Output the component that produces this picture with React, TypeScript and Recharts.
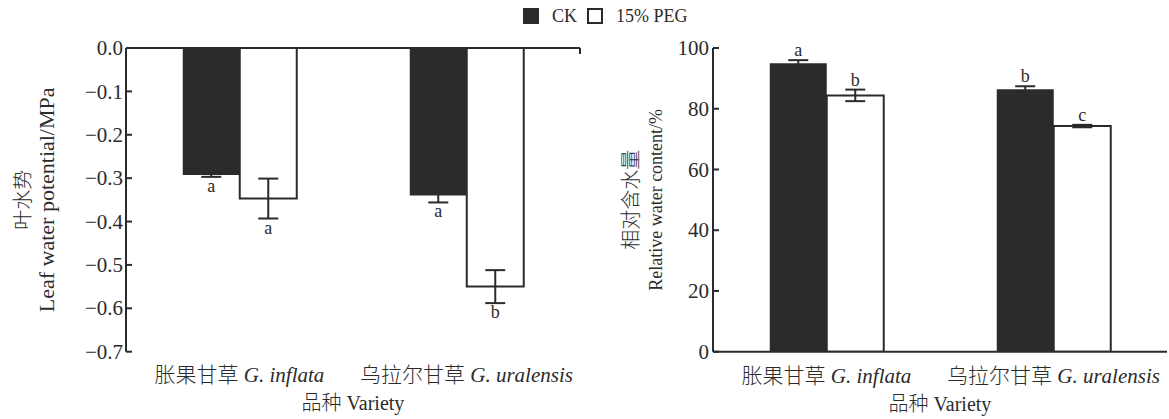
import React from "react";
import { BarChart, Bar, XAxis, YAxis, ErrorBar, LabelList } from "recharts";

// categories
const varietyCn = ["胀果甘草", "乌拉尔甘草"];
const varietyLatin = ["G. inflata", "G. uralensis"];
const seriesNames = ["CK", "15% PEG"];

// leaf water potential (MPa)
const lwpCk = [-0.293, -0.34];
const lwpCkErr = [0.004, 0.016];
const lwpPeg = [-0.347, -0.55];
const lwpPegErr = [0.046, 0.038];
const lwpCkLetters = ["a", "a"];
const lwpPegLetters = ["a", "b"];
const lwpTicks = [0, -0.1, -0.2, -0.3, -0.4, -0.5, -0.6, -0.7];

// relative water content (%)
const rwcCk = [95.0, 86.4];
const rwcCkErr = [1.0, 1.0];
const rwcPeg = [84.4, 74.3];
const rwcPegErr = [1.9, 0.4];
const rwcCkLetters = ["a", "b"];
const rwcPegLetters = ["b", "c"];
const rwcTicks = [0, 20, 40, 60, 80, 100];

const SERIF = "Liberation Serif";
const CJK = "Noto Sans CJK SC";
const INK = "#2b2b2b";
const BAR = "#2b2b2b";

function makeRows(ck: number[], ckErr: number[], peg: number[], pegErr: number[]) {
  return varietyCn.map((cn, i) => ({
    cn,
    ck: ck[i],
    ckErr: ckErr[i],
    peg: peg[i],
    pegErr: pegErr[i],
  }));
}

function CatTick(props: any) {
  const { x, y, payload } = props;
  const i = varietyCn.indexOf(payload.value);
  return (
    <text x={x} y={y + 30.5} textAnchor="middle" fontSize={21} fill={INK}>
      <tspan fontFamily={CJK} fontWeight={300}>{varietyCn[i]}</tspan>
      <tspan fontFamily={SERIF}>{" "}</tspan>
      <tspan fontFamily={SERIF} fontStyle="italic">{varietyLatin[i]}</tspan>
    </text>
  );
}

function makeYTick(fmt: (v: number) => string, gap: number) {
  return (props: any) => {
    const { x, y, payload } = props;
    return (
      <text x={x} y={y} dx={gap} dy="0.34em" textAnchor="end" fontSize={21} fill={INK} fontFamily={SERIF}>
        {fmt(Number(payload.value))}
      </text>
    );
  };
}

function XTitle(props: any) {
  const vb = props.viewBox || {};
  return (
    <text x={vb.x + vb.width / 2} y={vb.y + 58.5} textAnchor="middle" fontSize={20} fill={INK}>
      <tspan fontFamily={CJK} fontWeight={300}>品种</tspan>
      <tspan fontFamily={SERIF}> Variety</tspan>
    </text>
  );
}

function YTitle(props: any) {
  const vb = props.viewBox || {};
  const cy = vb.y + vb.height / 2;
  const { cn, en, cnX, enX, cnSize, enSize } = props;
  return (
    <g fill={INK}>
      <text
        x={vb.x + cnX}
        y={cy}
        transform={`rotate(-90 ${vb.x + cnX} ${cy})`}
        textAnchor="middle"
        dominantBaseline="central"
        fontSize={cnSize}
        fontFamily={CJK}
        fontWeight={300}
      >
        {cn}
      </text>
      <text
        x={vb.x + enX}
        y={cy}
        transform={`rotate(-90 ${vb.x + enX} ${cy})`}
        textAnchor="middle"
        dominantBaseline="central"
        fontSize={enSize}
        fontFamily={SERIF}
      >
        {en}
      </text>
    </g>
  );
}

// letter placed beyond the error bar cap, using the bar's own pixel size
function letterLabel(values: number[], errs: number[], letters: string[], below: boolean) {
  return (p: any) => {
    const i = p.index;
    const vb = p.viewBox || p;
    const y = Number(vb.y ?? p.y);
    const h = Number(vb.height ?? p.height);
    const x = Number(vb.x ?? p.x);
    const w = Number(vb.width ?? p.width);
    const top = Math.min(y, y + h);
    const bottom = Math.max(y, y + h);
    const pxPerUnit = Math.abs(h) / Math.abs(values[i]);
    const errPx = errs[i] * pxPerUnit;
    const ty = below ? bottom + errPx + 15 : top - errPx - 4;
    return (
      <text key={`l-${i}`} x={x + w / 2} y={ty} textAnchor="middle" fontSize={18} fill={INK} fontFamily={SERIF}>
        {letters[i]}
      </text>
    );
  };
}

type PanelProps = {
  width: number;
  marginRight: number;
  rows: any[];
  domain: [number, number];
  ticks: number[];
  fmt: (v: number) => string;
  negative: boolean;
  ckVals: number[];
  ckErr: number[];
  pegVals: number[];
  pegErr: number[];
  ckLetters: string[];
  pegLetters: string[];
  yTitle: { cn: string; en: string; cnX: number; enX: number; cnSize: number; enSize: number };
  tickGap: number;
};

function Panel(pp: PanelProps) {
  return (
    <BarChart
      width={pp.width}
      height={419}
      data={pp.rows}
      margin={{ top: pp.negative ? 47 : 48, right: pp.marginRight, bottom: 0, left: 0 }}
      barCategoryGap="25%"
      barGap={0}
    >
      <XAxis
        xAxisId={0}
        type="number"
        domain={[0, 2]}
        ticks={[1, 2]}
        allowDataOverflow
        orientation={pp.negative ? "top" : "bottom"}
        height={1}
        axisLine={{ stroke: INK, strokeWidth: 2 }}
        tickLine={{ stroke: INK, strokeWidth: 2 }}
        tickSize={-6}
        tickFormatter={() => ""}
      />
      <XAxis
        xAxisId={1}
        dataKey="cn"
        orientation="bottom"
        height={pp.negative ? 67.3 : 66.3}
        axisLine={false}
        tickLine={false}
        tickSize={0}
        tickMargin={0}
        tick={<CatTick />}
        interval={0}
        label={<XTitle />}
      />
      <YAxis
        width={126}
        domain={pp.domain}
        ticks={pp.ticks}
        interval={0}
        allowDataOverflow
        axisLine={{ stroke: INK, strokeWidth: 2 }}
        tickLine={{ stroke: INK, strokeWidth: 2 }}
        tickSize={-6}
        tickMargin={0}
        tick={makeYTick(pp.fmt, pp.tickGap)}
        label={<YTitle {...pp.yTitle} />}
      />
      <Bar xAxisId={1} dataKey="ck" name={seriesNames[0]} fill={BAR} isAnimationActive={false}>
        <ErrorBar dataKey="ckErr" width={10} stroke={INK} strokeWidth={2} direction="y" />
        <LabelList dataKey="ck" content={letterLabel(pp.ckVals, pp.ckErr, pp.ckLetters, pp.negative)} />
      </Bar>
      <Bar
        xAxisId={1}
        dataKey="peg"
        name={seriesNames[1]}
        fill="#ffffff"
        stroke={INK}
        strokeWidth={2}
        isAnimationActive={false}
      >
        <ErrorBar dataKey="pegErr" width={10} stroke={INK} strokeWidth={2} direction="y" />
        <LabelList dataKey="peg" content={letterLabel(pp.pegVals, pp.pegErr, pp.pegLetters, pp.negative)} />
      </Bar>
    </BarChart>
  );
}

export default function App() {
  const lwpRows = makeRows(lwpCk, lwpCkErr, lwpPeg, lwpPegErr);
  const rwcRows = makeRows(rwcCk, rwcCkErr, rwcPeg, rwcPegErr);

  return (
    <div
      style={{
        position: "absolute",
        left: 0,
        top: 0,
        width: 1169,
        height: 419,
        background: "#fff",
        overflow: "hidden",
        fontFamily: `'${SERIF}', serif`,
        color: INK,
      }}
    >
      <div
        style={{
          position: "absolute",
          left: 523,
          top: 8,
          height: 16,
          display: "flex",
          alignItems: "center",
          fontSize: 18,
          whiteSpace: "nowrap",
        }}
      >
        <span style={{ width: 16, height: 16, background: BAR, display: "inline-block" }} />
        <span style={{ marginLeft: 13 }}>{seriesNames[0]}</span>
        <span
          style={{
            marginLeft: 10,
            width: 16,
            height: 16,
            border: `2px solid ${INK}`,
            boxSizing: "border-box",
            display: "inline-block",
          }}
        />
        <span style={{ marginLeft: 13 }}>{seriesNames[1]}</span>
      </div>

      <div style={{ position: "absolute", left: 0, top: 0 }}>
        <Panel
          width={600}
          marginRight={20}
          rows={lwpRows}
          domain={[-0.7, 0]}
          ticks={lwpTicks}
          fmt={(v) => (v === 0 ? "0.0" : "\u2212" + Math.abs(v).toFixed(1))}
          negative
          ckVals={lwpCk}
          ckErr={lwpCkErr}
          pegVals={lwpPeg}
          pegErr={lwpPegErr}
          ckLetters={lwpCkLetters}
          pegLetters={lwpPegLetters}
          yTitle={{ cn: "叶水势", en: "Leaf water potential/MPa", cnX: 22, enX: 47, cnSize: 20, enSize: 22 }}
          tickGap={-9}
        />
      </div>

      <div style={{ position: "absolute", left: 587, top: 0 }}>
        <Panel
          width={582}
          marginRight={2}
          rows={rwcRows}
          domain={[0, 100]}
          ticks={rwcTicks}
          fmt={(v) => String(v)}
          negative={false}
          ckVals={rwcCk}
          ckErr={rwcCkErr}
          pegVals={rwcPeg}
          pegErr={rwcPegErr}
          ckLetters={rwcCkLetters}
          pegLetters={rwcPegLetters}
          yTitle={{ cn: "相对含水量", en: "Relative water content/%", cnX: 43, enX: 69, cnSize: 20, enSize: 18 }}
          tickGap={-10}
        />
      </div>
    </div>
  );
}
